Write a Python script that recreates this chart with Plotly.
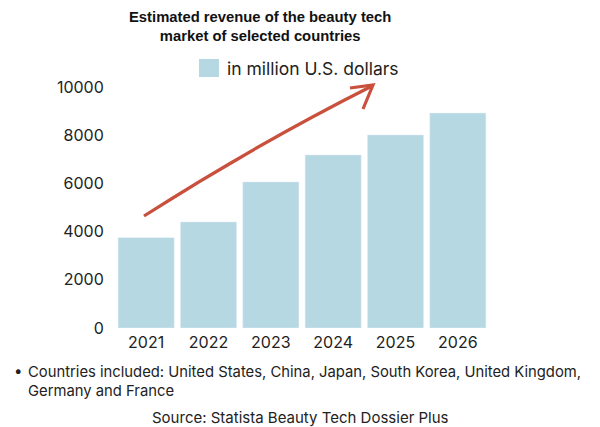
import plotly.graph_objects as go

years = ["2021", "2022", "2023", "2024", "2025", "2026"]
revenue = [3750, 4400, 6060, 7180, 8010, 8920]
y_ticks = [0, 2000, 4000, 6000, 8000, 10000]

W, H = 600, 427
ml, mr, mt, mb = 115, 111, 87, 99
bar_color = "#b5d8e2"
txt = "#222222"
arrow_color = "#c9503c"
body_font = "Inter, Roboto, sans-serif"

fig = go.Figure(go.Bar(x=years, y=revenue, marker_color=bar_color, width=0.9, showlegend=False))

fig.update_layout(
    width=W, height=H,
    margin=dict(l=ml, r=mr, t=mt, b=mb),
    paper_bgcolor="white", plot_bgcolor="white",
    font=dict(family=body_font, color=txt, size=15),
    bargap=0.1,
)
fig.update_yaxes(range=[0, 10000], tickvals=y_ticks, ticktext=[str(v) for v in y_ticks],
                 showgrid=False, zeroline=False, showline=False,
                 ticks="outside", ticklen=7, tickcolor="rgba(0,0,0,0)",
                 tickfont=dict(size=16, color=txt, family=body_font))
fig.update_xaxes(showgrid=False, showline=False, ticks="outside", ticklen=0,
                 tickcolor="rgba(0,0,0,0)",
                 tickfont=dict(size=16, color=txt, family=body_font))

def px(x):
    return (x - ml) / (W - ml - mr)

def py(y):
    return (H - mb - y) / (H - mt - mb)

def pt(x, y):
    return f"{px(x):.5f},{py(y):.5f}"

# title
fig.add_annotation(x=px(260), y=py(26), xref="paper", yref="paper",
                   text="<b>Estimated revenue of the beauty tech<br>market of selected countries</b>",
                   showarrow=False, xanchor="center", yanchor="middle",
                   font=dict(family="Liberation Sans, Arial, sans-serif", size=14.8, color="#111"),
                   align="center")
# legend (manual)
fig.add_shape(type="rect", xref="paper", yref="paper",
              x0=px(199), x1=px(219), y0=py(77), y1=py(59),
              fillcolor=bar_color, line=dict(width=0))
fig.add_annotation(x=px(225), y=py(68), xref="paper", yref="paper",
                   text="in million U.S. dollars", showarrow=False,
                   xanchor="left", yanchor="middle",
                   font=dict(size=17.5, color=txt, family=body_font))
# arrow (slightly curved shaft + open chevron head)
fig.add_shape(type="path", xref="paper", yref="paper",
              path=f"M {pt(144, 216)} Q {pt(255, 145)} {pt(372, 86)}",
              line=dict(color=arrow_color, width=3.2))
fig.add_shape(type="path", xref="paper", yref="paper",
              path=f"M {pt(350, 88)} L {pt(373, 85)} L {pt(363, 109)}",
              line=dict(color=arrow_color, width=3.2))
# footnote
fig.add_annotation(x=px(12), y=py(370), xref="paper", yref="paper",
                   text="•", showarrow=False, xanchor="left", yanchor="middle",
                   font=dict(size=15, color=txt, family=body_font))
fig.add_annotation(x=px(26), y=py(361), xref="paper", yref="paper",
                   text="Countries included: United States, China, Japan, South Korea, United Kingdom,<br>Germany and France",
                   showarrow=False, xanchor="left", yanchor="top", align="left",
                   font=dict(size=14.8, color=txt, family=body_font))
fig.add_annotation(x=px(300), y=py(417), xref="paper", yref="paper",
                   text="Source: Statista Beauty Tech Dossier Plus",
                   showarrow=False, xanchor="center", yanchor="middle",
                   font=dict(size=15, color=txt, family=body_font))
fig.write_html("out.html")
